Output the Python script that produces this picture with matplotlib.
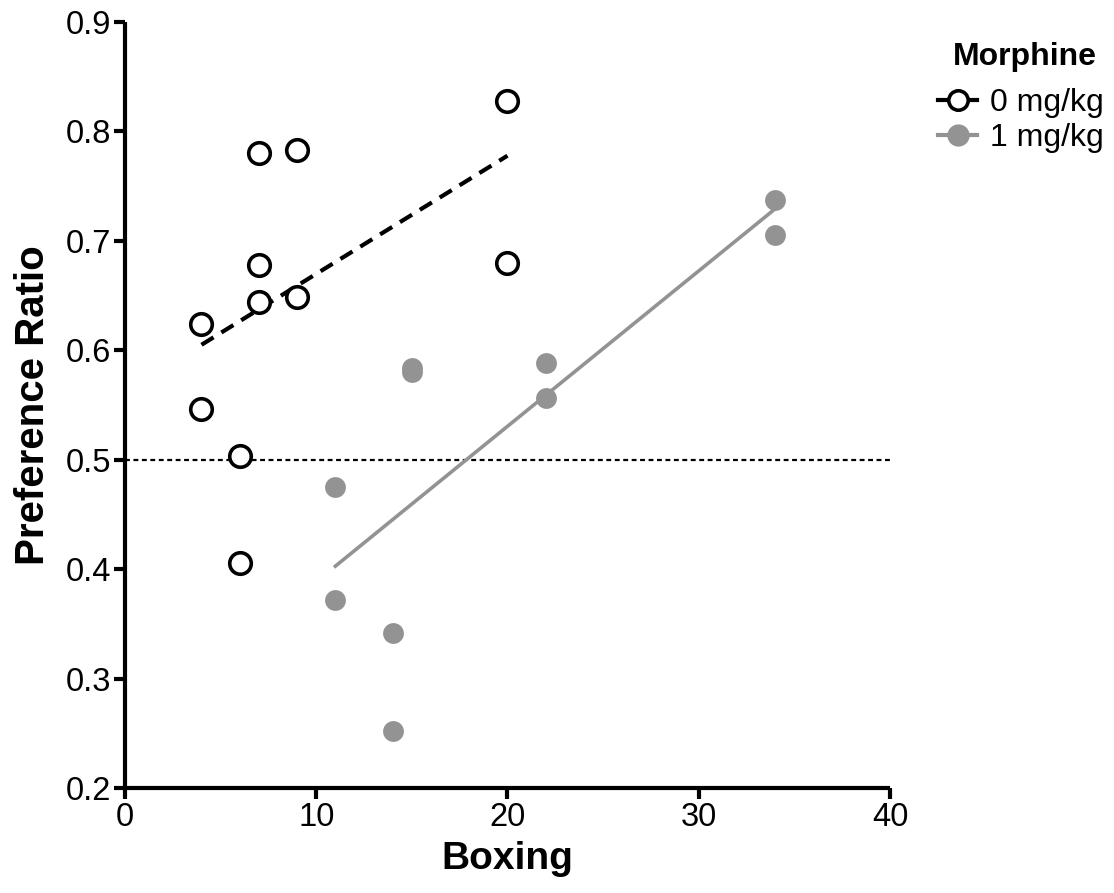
import numpy as np
import matplotlib
matplotlib.use("Agg")
import matplotlib.pyplot as plt
from matplotlib.lines import Line2D

plt.rcParams['font.family'] = ['Liberation Sans', 'DejaVu Sans']

# Boxing score vs. place-preference ratio, by morphine dose
boxing_0mg = [4, 4, 6, 6, 7, 7, 7, 9, 9, 20, 20]
pref_0mg = [0.624, 0.546, 0.503, 0.406, 0.780, 0.678, 0.644, 0.783, 0.649, 0.828, 0.680]

boxing_1mg = [11, 11, 14, 14, 15, 15, 22, 22, 34, 34]
pref_1mg = [0.475, 0.372, 0.342, 0.252, 0.584, 0.580, 0.588, 0.556, 0.737, 0.705]

# Linear fits (intercept, slope) reported for each group
fit_0mg = [0.5618, 0.0108]
fit_1mg = [0.2465, 0.0142]

chance_level = 0.5
x_ticks = [0, 10, 20, 30, 40]
y_ticks = [0.2, 0.3, 0.4, 0.5, 0.6, 0.7, 0.8, 0.9]

gray = '#939393'

fig = plt.figure(figsize=(11.14, 8.93), dpi=100)
ax = fig.add_axes([0.1122, 0.1176, 0.6867, 0.8578])

ax.axhline(chance_level, color='black', lw=1.6, ls=(0, (2.2, 1.6)), zorder=1)

xf0 = np.array([min(boxing_0mg), max(boxing_0mg)])
ax.plot(xf0, fit_0mg[0] + fit_0mg[1] * xf0, color='black', lw=3.0,
        ls=(0, (3.4, 2.2)), zorder=2)
xf1 = np.array([min(boxing_1mg), max(boxing_1mg)])
ax.plot(xf1, fit_1mg[0] + fit_1mg[1] * xf1, color=gray, lw=2.6, zorder=2)

ax.plot(boxing_0mg, pref_0mg, ls='none', marker='o', ms=15.5, mfc='white',
        mec='black', mew=2.6, zorder=4)
ax.plot(boxing_1mg, pref_1mg, ls='none', marker='o', ms=15, mfc=gray,
        mec=gray, mew=0, zorder=3)

ax.set_xlim(0, 40)
ax.set_ylim(0.2, 0.9)
ax.set_xticks(x_ticks)
ax.set_yticks(y_ticks)
ax.set_xticklabels([str(t) for t in x_ticks])
ax.set_yticklabels([f'{t:.1f}' for t in y_ticks])

for side in ['top', 'right']:
    ax.spines[side].set_visible(False)
for side in ['left', 'bottom']:
    ax.spines[side].set_linewidth(3)
    ax.spines[side].set_capstyle('butt')
ax.tick_params(axis='both', width=3, length=8, direction='out',
               labelsize=23.5, pad=2)

ax.set_xlabel('Boxing', fontsize=28, fontweight='bold', labelpad=6)
ax.set_ylabel('Preference Ratio', fontsize=29, fontweight='bold', labelpad=10)

# Legend: bold group title above the two dose entries
fig.text(1024.5 / 1114, 1 - 65 / 893, 'Morphine', ha='center', va='baseline',
         fontsize=23, fontweight='bold')

handles = [
    Line2D([], [], color='black', lw=3, marker='o', ms=14, mfc='white',
           mec='black', mew=2.6),
    Line2D([], [], color=gray, lw=3, marker='o', ms=15, mfc=gray, mec=gray),
]
leg = ax.legend(handles, ['0 mg/kg', '1 mg/kg'],
                loc='upper right', bbox_to_anchor=(1104 / 1114, 1 - 88 / 893),
                bbox_transform=fig.transFigure,
                frameon=False, fontsize=23,
                handlelength=1.25, handletextpad=0.4, labelspacing=0.15,
                borderaxespad=0, borderpad=0)

fig.savefig('out.png', dpi=100)
